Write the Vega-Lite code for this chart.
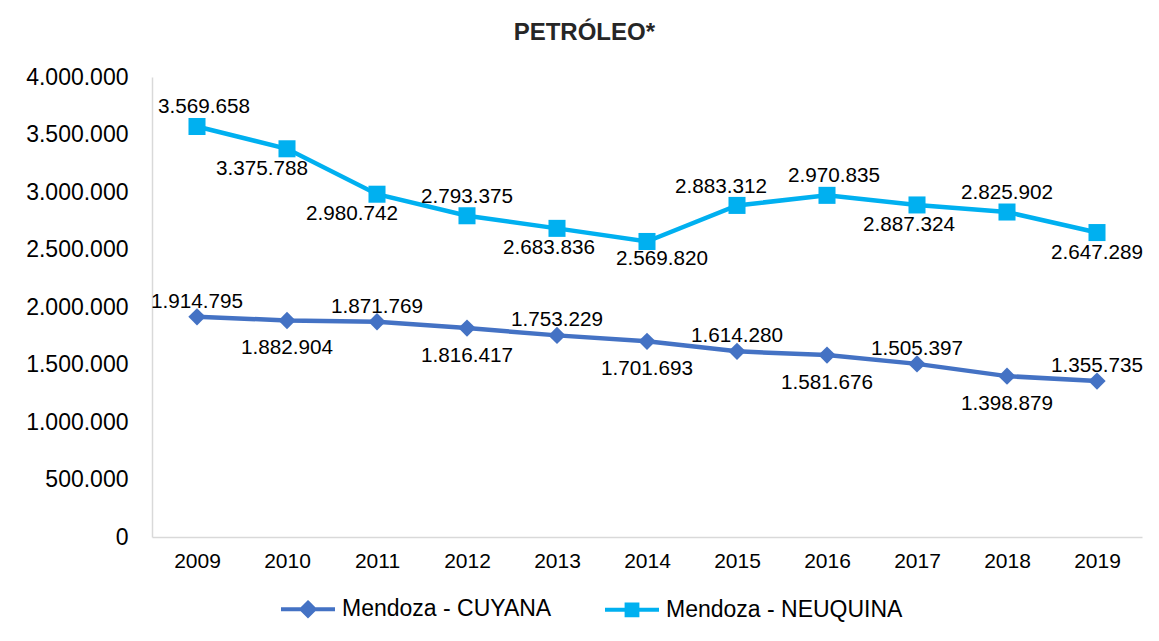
{
  "$schema": "https://vega.github.io/schema/vega-lite/v6.json",
  "width": 990,
  "height": 460,
  "padding": {"left": 25, "right": 17, "top": 21, "bottom": 0},
  "background": "white",
  "title": {
    "text": "PETRÓLEO*",
    "fontSize": 24,
    "fontWeight": "bold",
    "font": "Liberation Sans",
    "color": "#262626",
    "anchor": "middle",
    "frame": "bounds",
    "offset": 21
  },
  "data": {
    "values": [
      {"year": "2009", "series": "Mendoza - CUYANA", "value": 1914795},
      {"year": "2010", "series": "Mendoza - CUYANA", "value": 1882904},
      {"year": "2011", "series": "Mendoza - CUYANA", "value": 1871769},
      {"year": "2012", "series": "Mendoza - CUYANA", "value": 1816417},
      {"year": "2013", "series": "Mendoza - CUYANA", "value": 1753229},
      {"year": "2014", "series": "Mendoza - CUYANA", "value": 1701693},
      {"year": "2015", "series": "Mendoza - CUYANA", "value": 1614280},
      {"year": "2016", "series": "Mendoza - CUYANA", "value": 1581676},
      {"year": "2017", "series": "Mendoza - CUYANA", "value": 1505397},
      {"year": "2018", "series": "Mendoza - CUYANA", "value": 1398879},
      {"year": "2019", "series": "Mendoza - CUYANA", "value": 1355735},
      {"year": "2009", "series": "Mendoza - NEUQUINA", "value": 3569658},
      {"year": "2010", "series": "Mendoza - NEUQUINA", "value": 3375788},
      {"year": "2011", "series": "Mendoza - NEUQUINA", "value": 2980742},
      {"year": "2012", "series": "Mendoza - NEUQUINA", "value": 2793375},
      {"year": "2013", "series": "Mendoza - NEUQUINA", "value": 2683836},
      {"year": "2014", "series": "Mendoza - NEUQUINA", "value": 2569820},
      {"year": "2015", "series": "Mendoza - NEUQUINA", "value": 2883312},
      {"year": "2016", "series": "Mendoza - NEUQUINA", "value": 2970835},
      {"year": "2017", "series": "Mendoza - NEUQUINA", "value": 2887324},
      {"year": "2018", "series": "Mendoza - NEUQUINA", "value": 2825902},
      {"year": "2019", "series": "Mendoza - NEUQUINA", "value": 2647289}
    ]
  },
  "encoding": {
    "x": {
      "field": "year",
      "type": "ordinal",
      "scale": {"type": "point", "padding": 0.5},
      "axis": {
        "title": null,
        "labelAngle": 0,
        "labelFontSize": 21,
        "labelPadding": 13,
        "ticks": false,
        "domainColor": "#d9d9d9",
        "domainWidth": 1.5
      }
    },
    "y": {
      "field": "value",
      "type": "quantitative",
      "scale": {"domain": [0, 4000000]},
      "axis": {
        "title": null,
        "values": [0, 500000, 1000000, 1500000, 2000000, 2500000, 3000000, 3500000, 4000000],
        "format": ",d",
        "labelFontSize": 23,
        "labelPadding": 24,
        "ticks": false,
        "grid": false,
        "domainColor": "#d9d9d9",
        "domainWidth": 1.5
      }
    }
  },
  "layer": [
    {
      "mark": {"type": "line", "strokeWidth": 4.5},
      "encoding": {
        "color": {
          "field": "series",
          "type": "nominal",
          "scale": {"domain": ["Mendoza - CUYANA", "Mendoza - NEUQUINA"], "range": ["#4472C4", "#00B0F0"]},
          "legend": {
            "title": null,
            "orient": "none",
            "legendX": 127,
            "legendY": 503,
            "direction": "horizontal",
            "labelFontSize": 23,
            "labelColor": "#000000",
            "labelFont": "Liberation Sans",
            "labelLimit": 500,
            "symbolSize": 2916,
            "symbolStrokeWidth": 4,
            "labelOffset": 5,
            "columnPadding": 45,
            "encode": {
              "symbols": {
                "update": {
                  "shape": {"signal": "datum.value === 'Mendoza - CUYANA' ? 'M-1,0L1,0M0,-0.24L0.24,0L0,0.24L-0.24,0Z' : 'M-1,0L1,0M-0.2,-0.2L0.2,-0.2L0.2,0.2L-0.2,0.2Z'"},
                  "fill": {"signal": "datum.value === 'Mendoza - CUYANA' ? '#4472C4' : '#00B0F0'"},
                  "stroke": {"signal": "datum.value === 'Mendoza - CUYANA' ? '#4472C4' : '#00B0F0'"},
                  "strokeWidth": {"value": 4},
                  "opacity": {"value": 1}
                }
              }
            }
          }
        }
      }
    },
    {
      "transform": [{"filter": "datum.series === 'Mendoza - CUYANA'"}],
      "mark": {"type": "point", "filled": true, "opacity": 1, "shape": "diamond", "size": 300, "color": "#4472C4"}
    },
    {
      "transform": [{"filter": "datum.series === 'Mendoza - NEUQUINA'"}],
      "mark": {"type": "point", "filled": true, "opacity": 1, "shape": "square", "size": 290, "color": "#00B0F0"}
    },
    {
      "transform": [
        {"filter": "datum.series === 'Mendoza - CUYANA' && indexof(['2009','2011','2013','2015','2017','2019'], datum.year) >= 0"}
      ],
      "mark": {"type": "text", "fontSize": 20.7, "dy": -9, "baseline": "alphabetic", "color": "#000000"},
      "encoding": {"text": {"field": "value", "type": "quantitative", "format": ",d"}}
    },
    {
      "transform": [
        {"filter": "datum.series === 'Mendoza - CUYANA' && indexof(['2010','2012','2014','2016','2018'], datum.year) >= 0"}
      ],
      "mark": {"type": "text", "fontSize": 20.7, "dy": 34, "baseline": "alphabetic", "color": "#000000"},
      "encoding": {"text": {"field": "value", "type": "quantitative", "format": ",d"}}
    },
    {
      "transform": [
        {"filter": "datum.series === 'Mendoza - NEUQUINA' && indexof(['2012','2018'], datum.year) >= 0"}
      ],
      "mark": {"type": "text", "fontSize": 20.7, "dy": -13, "baseline": "alphabetic", "color": "#000000"},
      "encoding": {"text": {"field": "value", "type": "quantitative", "format": ",d"}}
    },
    {
      "transform": [
        {"filter": "datum.series === 'Mendoza - NEUQUINA' && indexof(['2009','2016'], datum.year) >= 0"}
      ],
      "mark": {"type": "text", "fontSize": 20.7, "dx": 7, "dy": -13, "baseline": "alphabetic", "color": "#000000"},
      "encoding": {"text": {"field": "value", "type": "quantitative", "format": ",d"}}
    },
    {
      "transform": [
        {"filter": "datum.series === 'Mendoza - NEUQUINA' && datum.year === '2015'"}
      ],
      "mark": {"type": "text", "fontSize": 20.7, "dx": -16, "dy": -12, "baseline": "alphabetic", "color": "#000000"},
      "encoding": {"text": {"field": "value", "type": "quantitative", "format": ",d"}}
    },
    {
      "transform": [
        {"filter": "datum.series === 'Mendoza - NEUQUINA' && indexof(['2010','2011'], datum.year) >= 0"}
      ],
      "mark": {"type": "text", "fontSize": 20.7, "dx": -25, "dy": 26, "baseline": "alphabetic", "color": "#000000"},
      "encoding": {"text": {"field": "value", "type": "quantitative", "format": ",d"}}
    },
    {
      "transform": [
        {"filter": "datum.series === 'Mendoza - NEUQUINA' && indexof(['2013','2017'], datum.year) >= 0"}
      ],
      "mark": {"type": "text", "fontSize": 20.7, "dx": -8, "dy": 26, "baseline": "alphabetic", "color": "#000000"},
      "encoding": {"text": {"field": "value", "type": "quantitative", "format": ",d"}}
    },
    {
      "transform": [
        {"filter": "datum.series === 'Mendoza - NEUQUINA' && datum.year === '2014'"}
      ],
      "mark": {"type": "text", "fontSize": 20.7, "dx": 15, "dy": 24, "baseline": "alphabetic", "color": "#000000"},
      "encoding": {"text": {"field": "value", "type": "quantitative", "format": ",d"}}
    },
    {
      "transform": [
        {"filter": "datum.series === 'Mendoza - NEUQUINA' && datum.year === '2019'"}
      ],
      "mark": {"type": "text", "fontSize": 20.7, "dy": 26, "baseline": "alphabetic", "color": "#000000"},
      "encoding": {"text": {"field": "value", "type": "quantitative", "format": ",d"}}
    }
  ],
  "config": {
    "locale": {
      "number": {"decimal": ",", "thousands": ".", "grouping": [3], "currency": ["$", ""]}
    },
    "font": "Liberation Sans",
    "view": {"stroke": null},
    "axis": {"labelColor": "#000000", "labelFont": "Liberation Sans"}
  }
}
